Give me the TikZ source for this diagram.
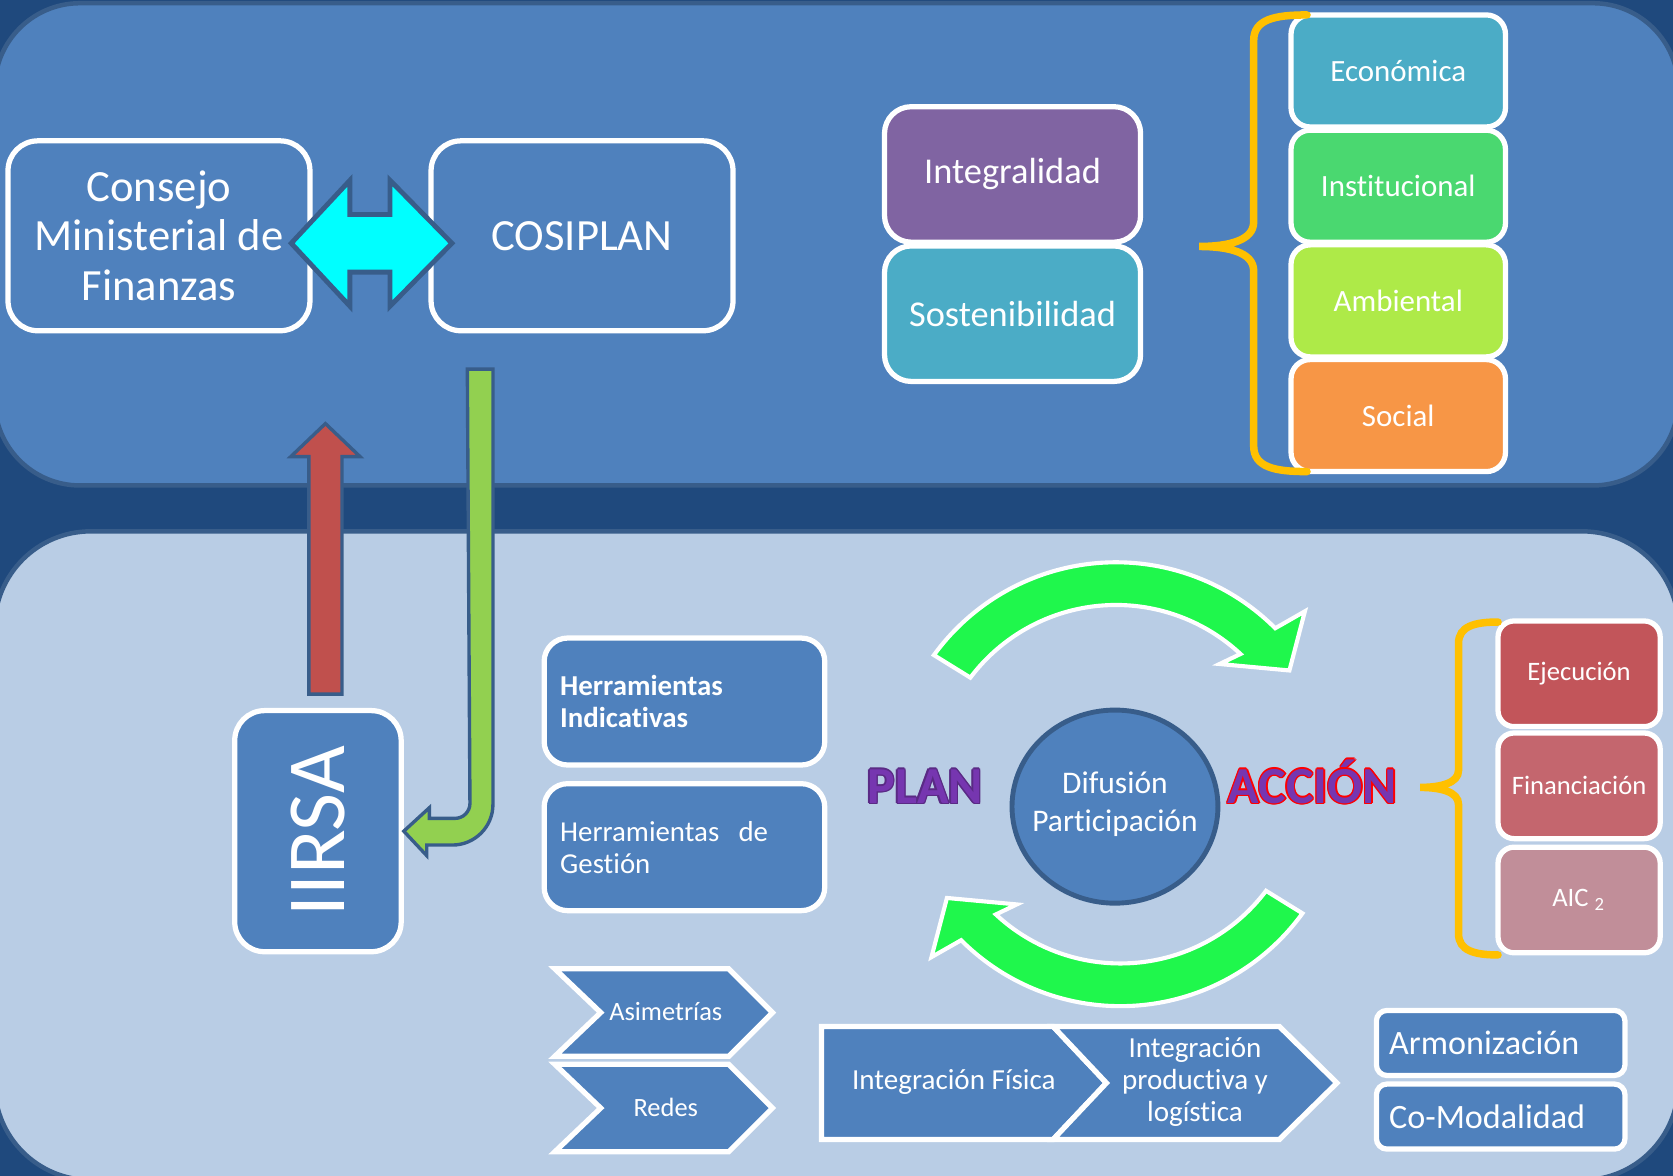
\documentclass[tikz,border=0pt]{standalone}
\usepackage{fontspec}
\setmainfont{Carlito}[Ligatures=NoCommon]
\usepackage{graphicx}
\usepackage{tikz}
\usetikzlibrary{shapes,arrows,positioning,calc,arrows.meta}

\definecolor{nightblue}{HTML}{1F497D}
\definecolor{slideblue}{HTML}{4F81BD}
\definecolor{paleblue}{HTML}{B9CDE5}
\definecolor{rimblue}{HTML}{385D8A}
\definecolor{braceyellow}{HTML}{FFC000}
\definecolor{plumbox}{HTML}{8064A2}
\definecolor{tealbox}{HTML}{4BACC6}
\definecolor{leafbox}{HTML}{4AD870}
\definecolor{limebox}{HTML}{AEEA48}
\definecolor{orangebox}{HTML}{F79646}
\definecolor{brickred}{HTML}{C0504D}
\definecolor{grassgreen}{HTML}{92D050}
\definecolor{cyanarrow}{HTML}{00FFFF}
\definecolor{cyclegreen}{HTML}{1FF74C}
\definecolor{planpurple}{HTML}{7636B0}
\definecolor{darkplum}{HTML}{5A2A85}
\definecolor{rimred}{HTML}{FF0000}
\definecolor{ejecred}{HTML}{C2555A}
\definecolor{finanred}{HTML}{C4666E}
\definecolor{aicrose}{HTML}{C18E99}

% outlined lettering
\newcommand{\rimmed}[2]{%
  \rlap{\color{#1}\kern0.4pt#2}\rlap{\color{#1}\kern-0.4pt#2}%
  \rlap{\color{#1}\raisebox{0.4pt}{#2}}\rlap{\color{#1}\raisebox{-0.4pt}{#2}}%
  \rlap{\color{#1}\kern0.28pt\raisebox{0.28pt}{#2}}\rlap{\color{#1}\kern-0.28pt\raisebox{0.28pt}{#2}}%
  \rlap{\color{#1}\kern0.28pt\raisebox{-0.28pt}{#2}}\rlap{\color{#1}\kern-0.28pt\raisebox{-0.28pt}{#2}}%
  #2}

\tikzset{
  panel/.style={draw=rimblue, line width=1.2pt, rounded corners=8mm},
  whitebox/.style={draw=white, line width=1.4pt, fill=slideblue, text=white, align=center, inner sep=0pt},
  bigbox/.style={whitebox, rounded corners=2.8mm, minimum width=28.3mm, minimum height=17.8mm, font=\fontsize{11.9}{13.2}\selectfont},
  pillarbox/.style={whitebox, rounded corners=2.5mm, minimum width=24mm, minimum height=12.7mm, font=\fontsize{9.7}{11}\selectfont},
  aspectbox/.style={whitebox, rounded corners=1.8mm, minimum width=20.1mm, minimum height=10.5mm, font=\fontsize{8.25}{10}\selectfont},
  toolbox/.style={whitebox, rounded corners=2.2mm, minimum width=26.3mm, minimum height=11.9mm, text width=23.3mm, align=left, font=\fontsize{7.7}{8.5}\selectfont},
  stagebox/.style={whitebox, rounded corners=1.5mm, minimum width=15.2mm, minimum height=9.9mm, font=\fontsize{7.1}{8.5}\selectfont},
  tagbox/.style={whitebox, rounded corners=1mm, minimum width=23.3mm, minimum height=6.1mm, text width=20.9mm, align=left, font=\fontsize{9.1}{10}\selectfont},
  hub/.style={ellipse, draw=rimblue, line width=1.3pt, fill=slideblue, minimum width=19.3mm, minimum height=18.1mm, inner sep=0pt},
  chevron/.style={draw=white, line width=1.4pt, fill=slideblue, line join=miter},
  chevtext/.style={text=white, align=center, font=\fontsize{7.05}{8.5}\selectfont},
  blockarrow/.style={draw=rimblue, line width=0.9pt, line join=miter},
  cyclearrow/.style={draw=white, line width=1.1pt, fill=cyclegreen, line join=miter},
  curly/.style={draw=braceyellow, line width=2pt, line cap=round},
  bigword/.style={font=\fontsize{13.85}{15}\selectfont\bfseries, anchor=base, inner sep=0pt}
}

\begin{document}
\begin{tikzpicture}[x=0.1mm, y=-0.1mm]
   \useasboundingbox (0,0) rectangle (1568,1102);
   \clip (0,0) rectangle (1568,1102);

   % Backdrop and panels
   \fill[nightblue] (0,0) rectangle (1568,1102);
   \draw[panel, fill=slideblue] (-5,3) rectangle (1573,455);
   \draw[panel, fill=paleblue, rounded corners=9mm] (-5,498) rectangle (1573,1106);

   % Upper panel
   \node[bigbox] (cmf) at (149,221) {Consejo\\Ministerial de\\Finanzas};
   \node[bigbox] (cosiplan) at (545.5,221) {COSIPLAN};
   \node[pillarbox, fill=plumbox] (integ) at (949,163.5) {Integralidad};
   \node[pillarbox, fill=tealbox] (sosten) at (949,294) {Sostenibilidad};
   \node[aspectbox, fill=tealbox] (econ) at (1310.5,66.5) {Económica};
   \node[aspectbox, fill=leafbox] (inst) at (1310.5,174.5) {Institucional};
   \node[aspectbox, fill=limebox] (amb) at (1310.5,282) {Ambiental};
   \node[aspectbox, fill=orangebox] (soc) at (1310.5,389.5) {Social};

   % Brace of the four aspects
   \draw[curly] (1225,14) .. controls (1195,14) and (1175,18) .. (1175,38) -- (1175,208)
      .. controls (1175,226) and (1150,231) .. (1124,231)
      .. controls (1150,231) and (1175,236) .. (1175,254) -- (1175,418)
      .. controls (1175,438) and (1195,442) .. (1225,442);

   % Lower panel
   \node[whitebox, rounded corners=2.8mm, minimum width=15.6mm, minimum height=22.6mm,
         font=\fontsize{22}{24}\selectfont] (iirsa) at (298,779) {\rotatebox{90}{IIRSA}};
   \node[toolbox, font=\fontsize{7.7}{8.5}\selectfont\bfseries] (herrI) at (641.5,657.5) {Herramientas\\Indicativas};
   \node[toolbox] (herrG) at (641.5,794) {Herramientas\ \ de\\Gestión};

   \node[hub] (hub) at (1045,756) {};
   \node[text=white, align=center, font=\fontsize{8.4}{10.2}\selectfont] (hubtext) at ($(hub.center)+(0,-2)$) {Difusión\\Participación};
   \node[bigword, text=planpurple] (plan) at (867,753) {\rimmed{darkplum}{PLAN}};
   \node[bigword, text=planpurple] (accion) at (1230,753) {\rimmed{rimred}{ACCIÓN}};

   \node[stagebox, fill=ejecred] (ejec) at (1480,631.5) {Ejecución};
   \node[stagebox, fill=finanred] (finan) at (1480,736.5) {Financiación};
   \node[stagebox, fill=aicrose] (aic) at (1480,843.5) {AIC \textsubscript{2}};

   % Brace of the stages
   \draw[curly] (1404,583) .. controls (1382,583) and (1367,587) .. (1367,603) -- (1367,722)
      .. controls (1367,734) and (1350,738) .. (1331,738)
      .. controls (1350,738) and (1367,742) .. (1367,754) -- (1367,875)
      .. controls (1367,891) and (1382,895) .. (1404,895);

   % Small chevrons
   \foreach \y/\name/\txt in {949/asim/Asimetrías, 1038.5/redes/Redes} {
      \draw[chevron] (520,\y-41) -- (683,\y-41) -- (724,\y) -- (683,\y+41)
         -- (520,\y+41) -- (563,\y) -- cycle;
      \node[chevtext] (\name) at (624,\y-1) {\txt};
   }

   % Process chevrons
   \draw[chevron] (770,962) -- (987,962) -- (1037,1015) -- (987,1068) -- (770,1068) -- cycle;
   \draw[chevron] (987,962) -- (1199,962) -- (1253,1015) -- (1199,1068) -- (987,1068) -- (1037,1015) -- cycle;
   \node[chevtext, font=\fontsize{7.75}{8.5}\selectfont] (fisica) at (894,1014) {Integración Física};
   \node[chevtext, font=\fontsize{7.75}{8.5}\selectfont] (logist) at (1120,1014) {Integración\\productiva y\\logística};

   \node[tagbox] (armon) at (1406.5,977.5) {Armonización};
   \node[tagbox] (comod) at (1406.5,1046.5) {Co-Modalidad};

   % Plan-action cycle
   \begin{scope}[shift={(1046,738)}, yscale=-1]
      \draw[cyclearrow] (144:211) arc[start angle=144, end angle=45, radius=211]
         -- (43:242) -- (34:196) -- (50:151) -- (47:171)
         arc[start angle=47, end angle=143, radius=171] -- cycle;
   \end{scope}
   \begin{scope}[shift={(1050,732)}, yscale=-1, rotate=180]
      \draw[cyclearrow] (144:211) arc[start angle=144, end angle=45, radius=211]
         -- (43:242) -- (34:196) -- (50:151) -- (47:171)
         arc[start angle=47, end angle=143, radius=171] -- cycle;
   \end{scope}

   % Two-way link between the councils
   \coordinate (dl) at ($(cmf.east)+(-20,7)$);
   \coordinate (dr) at ($(cosiplan.west)+(22,7)$);
   \draw[blockarrow, line width=1.3pt, fill=cyanarrow] (dl) -- ++(55,-59) -- ++(0,32)
      -- ($(dr)+(-58,-27)$) -- ++(0,-32) -- (dr) -- ++(-58,59) -- ++(0,-32)
      -- ($(dl)+(55,27)$) -- ++(0,32) -- cycle;

   % IIRSA up to the upper panel
   \coordinate (rtop) at (305,397);
   \coordinate (rfoot) at ($(iirsa.north)+(7,-13)$);
   \draw[blockarrow, fill=brickred] ($(rfoot)+(-15.5,0)$) -- ($(rtop)+(-15.5,31)$) -- ++(-17,0)
      -- (rtop) -- ++(32.5,31) -- ++(-17,0) -- ($(rfoot)+(15.5,0)$) -- cycle;

   % Upper panel down to IIRSA
   \coordinate (gtop) at (450,346);
   \draw[blockarrow, fill=grassgreen] (iirsa.east) -- ++(24,-22) -- ++(0,10) -- ++(24,0)
      arc[start angle=90, end angle=0, radius=14] -- ($(gtop)+(-12,0)$) -- ($(gtop)+(12,0)$)
      -- ++(0,408) arc[start angle=0, end angle=90, radius=38] -- ++(-24,0) -- ++(0,10) -- cycle;

\end{tikzpicture}
\end{document}
